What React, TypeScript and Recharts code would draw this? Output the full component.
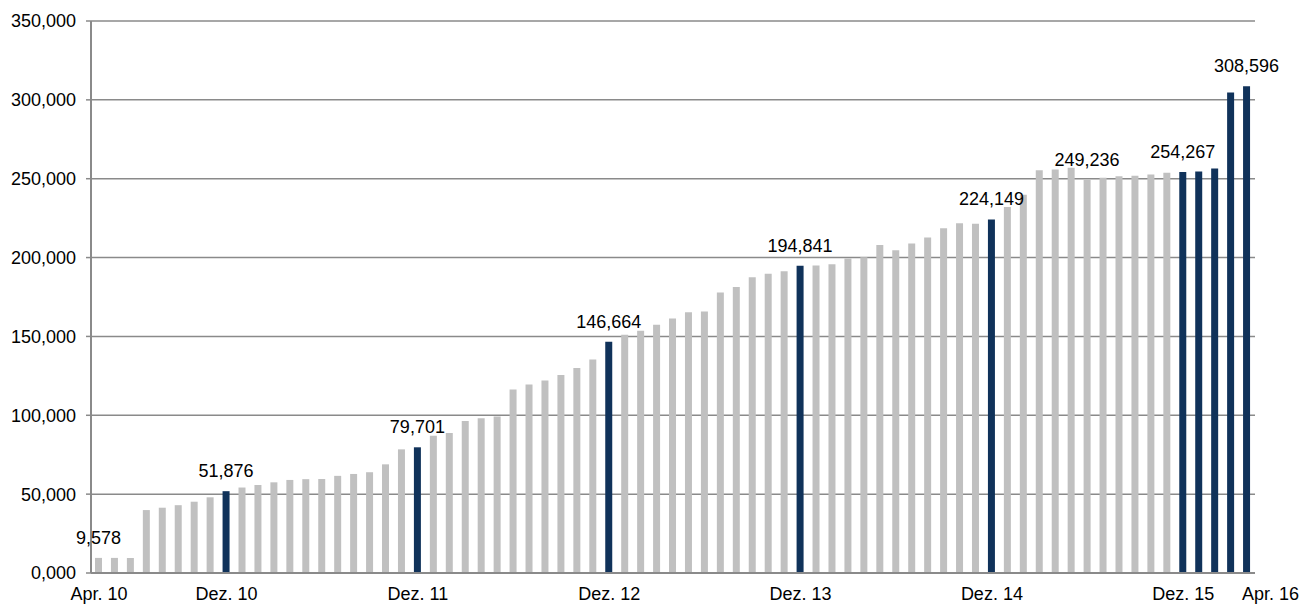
import React from "react";
import { BarChart, Bar, XAxis, YAxis, CartesianGrid, Cell, LabelList } from "recharts";

const monthNames = ["Jan.", "Feb.", "Mär.", "Apr.", "Mai", "Jun.", "Jul.", "Aug.", "Sep.", "Okt.", "Nov.", "Dez."];

// Apr. 10 .. Apr. 16, one bar per month
const categories: string[] = [];
for (let y = 10; y <= 16; y++) {
  for (let m = 0; m < 12; m++) {
    if ((y === 10 && m < 3) || (y === 16 && m > 3)) continue;
    categories.push(`${monthNames[m]} ${y}`);
  }
}

const values = [
  9578, 9578, 9578, 39900, 41400, 43000, 45200, 48000, 51876, 54200,
  55800, 57500, 59000, 59500, 59600, 61600, 62800, 63900, 68900, 78400,
  79701, 87000, 88700, 96400, 98100, 99200, 116400, 119500, 122100, 125600,
  130000, 135300, 146664, 151100, 153600, 157400, 161300, 165300, 165800, 177900,
  181300, 187600, 189700, 191400, 194841, 194900, 195800, 199400, 200200, 208000,
  204600, 208900, 212700, 218600, 221700, 221500, 224149, 232100, 239900, 255300,
  255900, 257000, 249236, 250600, 251500, 251900, 252700, 253800, 254267, 254600,
  256500, 304600, 308596,
];

const darkMonths = ["Dez. 10", "Dez. 11", "Dez. 12", "Dez. 13", "Dez. 14", "Dez. 15", "Jan. 16", "Feb. 16", "Mär. 16", "Apr. 16"];
const labelMonths = ["Apr. 10", "Dez. 10", "Dez. 11", "Dez. 12", "Dez. 13", "Dez. 14", "Jun. 15", "Dez. 15", "Apr. 16"];
const xTicks = ["Apr. 10", "Dez. 10", "Dez. 11", "Dez. 12", "Dez. 13", "Dez. 14", "Dez. 15", "Apr. 16"];
const yTicks = [0, 50000, 100000, 150000, 200000, 250000, 300000, 350000];

const data = categories.map((name, i) => ({
  name,
  value: values[i],
  lbl: labelMonths.includes(name) ? values[i] : null,
}));

const FONT = "'Liberation Sans', Arial, sans-serif";
const fmt = (v: number) => (v === 0 ? "0,000" : v.toLocaleString("en-US"));

const XTick = (props: any) => {
  const { x, y, payload } = props;
  const last = payload.value === "Apr. 16";
  return (
    <text
      x={last ? x - 5 : x}
      y={y}
      dy="0.71em"
      textAnchor={last ? "start" : "middle"}
      fontSize={18}
      fontFamily={FONT}
      fill="#000"
    >
      {payload.value}
    </text>
  );
};

const TopLabel = (props: any) => {
  const { x, y, width, value } = props;
  if (value == null) return null;
  return (
    <text
      x={x + width / 2}
      y={y - 20}
      dominantBaseline="central"
      textAnchor="middle"
      fontSize={18}
      fontFamily={FONT}
      fill="#000"
    >
      {fmt(value)}
    </text>
  );
};

export default function App() {
  return (
    <div style={{ position: "absolute", left: 0, top: 0 }}>
      <BarChart
        width={1303}
        height={605}
        data={data}
        margin={{ top: 21, right: 48, left: 0, bottom: 2 }}
        barSize={7}
        style={{ fontFamily: FONT }}
      >
        <CartesianGrid vertical={false} stroke="#8a8a8a" strokeWidth={1.5} />
        <XAxis
          dataKey="name"
          ticks={xTicks}
          interval={0}
          tick={<XTick />}
          tickLine={false}
          tickSize={0}
          tickMargin={14}
          height={30}
          axisLine={{ stroke: "#8a8a8a", strokeWidth: 2 }}
        />
        <YAxis
          domain={[0, 350000]}
          ticks={yTicks}
          interval={0}
          width={91}
          tickFormatter={fmt}
          tick={{ fontSize: 18, fill: "#000", fontFamily: FONT }}
          tickSize={5}
          tickMargin={10}
          tickLine={{ stroke: "#8a8a8a", strokeWidth: 1.5 }}
          axisLine={{ stroke: "#8a8a8a", strokeWidth: 2 }}
        />
        <Bar dataKey="value" isAnimationActive={false}>
          {data.map((d) => (
            <Cell key={d.name} fill={darkMonths.includes(d.name) ? "#10325a" : "#c0c0c0"} />
          ))}
          <LabelList dataKey="lbl" content={<TopLabel />} />
        </Bar>
      </BarChart>
    </div>
  );
}
